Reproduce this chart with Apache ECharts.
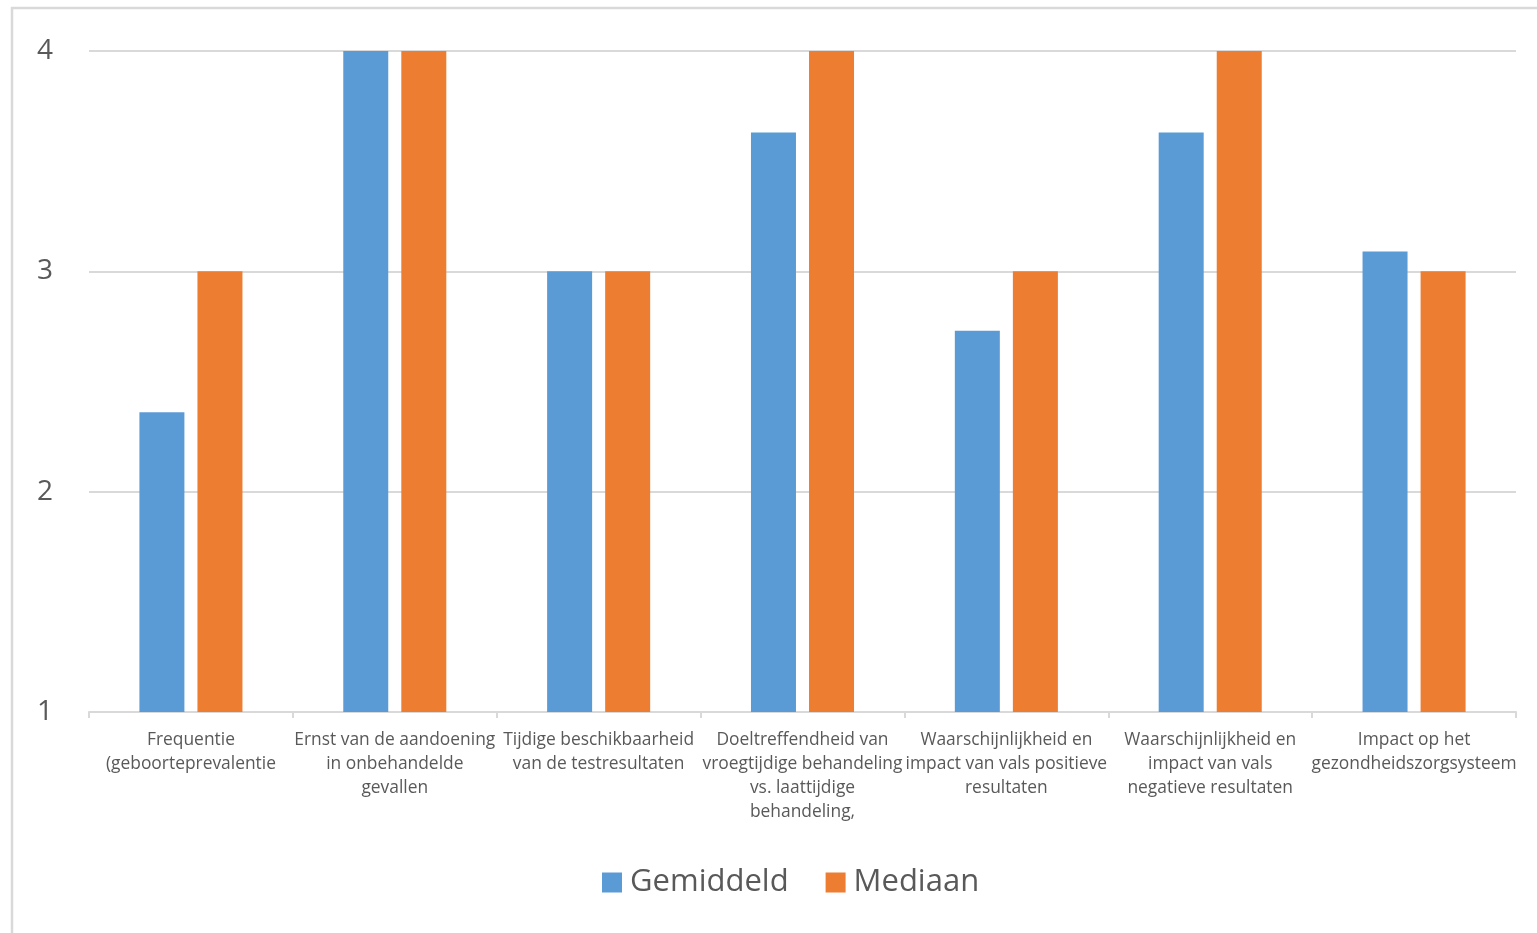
<!DOCTYPE html>
<html>
<head>
<meta charset="utf-8">
<style>
  html, body { margin: 0; padding: 0; background: #ffffff; }
  #chart { width: 1537px; height: 933px; }
</style>
<script src="https://cdn.jsdelivr.net/npm/echarts@6/dist/echarts.min.js"></script>
</head>
<body>
<div id="chart"></div>
<script>
// Criteria (category axis labels, wrapped by hand)
const categories = [
  'Frequentie\n(geboorteprevalentie',
  'Ernst van de aandoening\nin onbehandelde\ngevallen',
  'Tijdige beschikbaarheid\nvan de testresultaten',
  'Doeltreffendheid van\nvroegtijdige behandeling\nvs. laattijdige\nbehandeling,',
  'Waarschijnlijkheid en\nimpact van vals positieve\nresultaten',
  'Waarschijnlijkheid en\nimpact van vals\nnegatieve resultaten',
  'Impact op het\ngezondheidszorgsysteem'
];

// Scores per criterion
const gemiddeld = [2.36, 4, 3, 3.63, 2.73, 3.63, 3.09];
const mediaan   = [3, 4, 3, 4, 3, 4, 3];

const seriesNames = ['Gemiddeld', 'Mediaan'];
const yTicks = [1, 2, 3, 4];

const chart = echarts.init(document.getElementById('chart'));
const fontFamily = '"Open Sans", sans-serif';
const textColor = '#595959';
const lineColor = '#d9d9d9';

chart.setOption({
  animation: false,
  backgroundColor: '#ffffff',
  color: ['#5b9bd5', '#ed7d31'],
  graphic: [{
    type: 'rect',
    shape: { x: 12, y: 8, width: 1540, height: 940 },
    style: { fill: 'none', stroke: lineColor, lineWidth: 2.5 },
    silent: true
  }],
  grid: { left: 89, right: 21, top: 51, bottom: 221, containLabel: false },
  legend: {
    data: seriesNames,
    bottom: 30,
    left: 597,
    itemWidth: 20,
    itemHeight: 20,
    itemGap: 37,
    icon: 'rect',
    textStyle: { fontSize: 31, color: textColor, fontFamily: fontFamily, padding: [0, 0, 0, 3] }
  },
  xAxis: {
    type: 'category',
    data: categories,
    axisLine: { lineStyle: { color: lineColor, width: 2 } },
    axisTick: { show: true, length: 6, lineStyle: { color: lineColor, width: 2 } },
    axisLabel: {
      interval: 0,
      margin: 16,
      fontSize: 17.4,
      lineHeight: 24,
      color: textColor,
      fontFamily: fontFamily,
      align: 'center'
    }
  },
  yAxis: {
    type: 'value',
    min: yTicks[0],
    max: yTicks[yTicks.length - 1],
    interval: 1,
    axisLine: { show: false },
    axisTick: { show: false },
    axisLabel: { fontSize: 28, color: textColor, fontFamily: fontFamily, margin: 36 },
    splitLine: { lineStyle: { color: lineColor, width: 2 } }
  },
  series: [
    { name: seriesNames[0], type: 'bar', data: gemiddeld, barWidth: 45, barGap: '29%' },
    { name: seriesNames[1], type: 'bar', data: mediaan, barWidth: 45, barGap: '29%' }
  ]
});
</script>
</body>
</html>
